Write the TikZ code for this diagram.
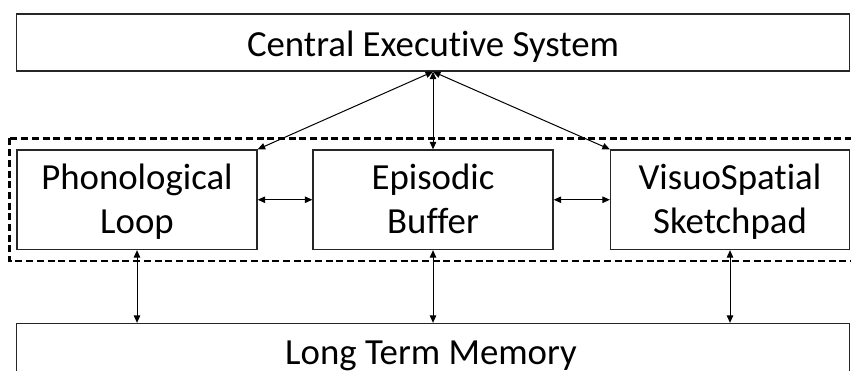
\documentclass[tikz,border=0pt]{standalone}
\usepackage{fontspec}
\setmainfont{Carlito}[Ligatures=NoCommon]
\usetikzlibrary{arrows.meta}
\begin{document}
\begin{tikzpicture}[x=1pt,y=-1pt,
  box/.style={draw=black!85, line width=1.3pt, fill=white, inner sep=0pt},
  lbl/.style={inner sep=0pt, font=\fontsize{36.8}{44}\selectfont, align=center},
  arr/.style={line width=1pt, {Triangle[length=7.5pt,width=6.5pt]}-{Triangle[length=7.5pt,width=6.5pt]}},
  dashbox/.style={line width=2.2pt, dash pattern=on 7pt off 3.7pt}]
\useasboundingbox (0,0) rectangle (851,371);
\clip (0,0) rectangle (851,371);
\draw[dashbox] (9.5,138.5) rectangle (870,261);
\node[box, minimum width=832.6pt, minimum height=57pt] (ces) at (433,42.5) {};
\node[box, minimum width=240pt, minimum height=99.5pt] (phon) at (137,199.75) {};
\node[box, minimum width=240pt, minimum height=99.5pt] (epi) at (433,199.75) {};
\node[box, minimum width=239pt, minimum height=99.5pt] (vis) at (730,199.75) {};
\node[box, minimum width=832.6pt, minimum height=57pt] (ltm) at (433,352) {};
\node[lbl, anchor=base] (cest) at (433,57) {Central Executive System};
\node[lbl, anchor=base] (phont) at (137,234) {Phonological\\Loop};
\node[lbl, anchor=base] (epit) at (433,234) {Episodic\\Buffer};
\node[lbl, anchor=base] (vist) at (730,234) {VisuoSpatial\\Sketchpad};
\node[lbl, anchor=base] (ltmt) at (431,364) {Long Term Memory};
\draw[arr] (ces.south) -- (phon.north east);
\draw[arr] (ces.south) -- (epi.north);
\draw[arr] (ces.south) -- (vis.north west);
\draw[arr] (phon.east) -- (epi.west);
\draw[arr] (epi.east) -- (vis.west);
\draw[arr] (phon.south) -- (ltm.north -| phon.south);
\draw[arr] (epi.south) -- (ltm.north -| epi.south);
\draw[arr] (vis.south) -- (ltm.north -| vis.south);
\end{tikzpicture}
\end{document}
